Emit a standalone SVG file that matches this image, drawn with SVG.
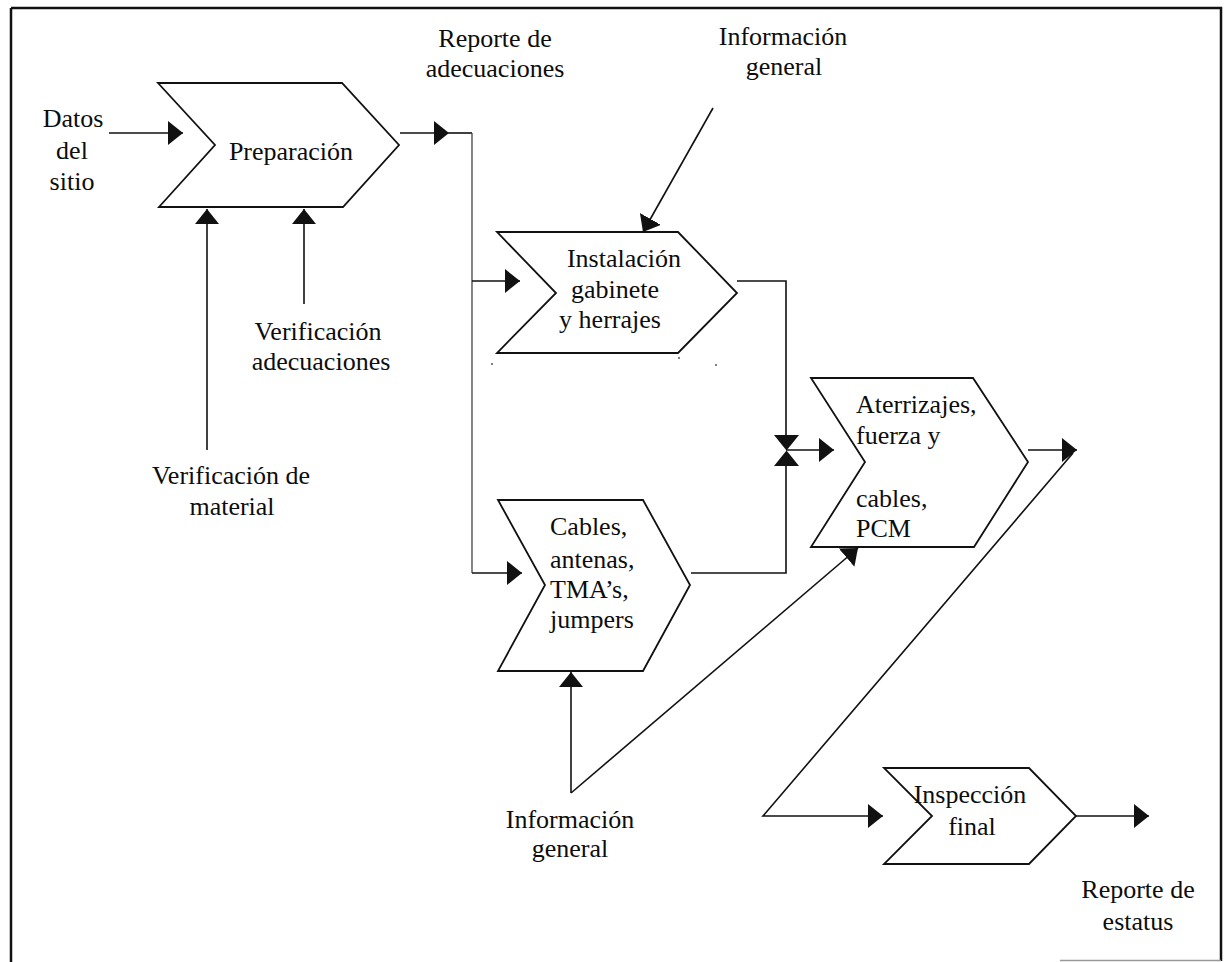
<svg xmlns="http://www.w3.org/2000/svg" width="1227" height="962" viewBox="0 0 1227 962">
  <defs>
    <marker id="arrow" markerUnits="userSpaceOnUse" markerWidth="16" markerHeight="24" viewBox="0 0 16 24" refX="15" refY="12" orient="auto">
      <path d="M0,0 L15,12 L0,24 z" fill="#111"/>
    </marker>
    <style>
      .shape { fill: #fff; stroke: #111; stroke-width: 1.8; stroke-linejoin: miter; }
      .wire { fill: none; stroke: #111; stroke-width: 1.6; }
      .thin { fill: none; stroke: #444; stroke-width: 1.3; }
      .arr { marker-end: url(#arrow); }
      text { font-family: "Liberation Serif", "Times New Roman", serif; font-size: 26px; fill: #0d0d0d; }
      .c { text-anchor: middle; }
      .speck { fill: #555; }
    </style>
  </defs>

  <rect width="1227" height="962" fill="#fff"/>

  <!-- frame -->
  <g id="frame" fill="none">
    <path d="M11,8 H1221 V961" stroke="#111" stroke-width="2.5"/>
    <path d="M11,8 V962" stroke="#111" stroke-width="2.5"/>
    <path d="M1060,960.5 H1221" stroke="#999" stroke-width="1.5"/>
  </g>

  <!-- connectors -->
  <g id="connectors">
    <path class="wire arr" d="M109,133 H183"/>
    <path class="wire arr" d="M207,450 V209"/>
    <path class="wire arr" d="M304,304 V209"/>
    <path class="wire arr" d="M400,133 H449"/>
    <path class="wire" d="M449,133 H472"/>
    <path class="thin" d="M472,133 V573"/>
    <path class="wire arr" d="M472,281 H520"/>
    <path class="wire arr" d="M472,573 H522"/>
    <path class="wire arr" d="M713,108 L643,232"/>
    <path class="wire" d="M737,281 H786 V436"/>
    <path class="wire" d="M691,573 H786 V465"/>
    <polygon points="774,435 799,435 786.5,450.5" fill="#111"/>
    <polygon points="774,466 799,466 786.5,450.5" fill="#111"/>
    <path class="wire arr" d="M786,450 H834"/>
    <path class="wire arr" d="M1028,450 H1077"/>
    <path class="wire arr" d="M1073,453 L763,816 H883"/>
    <path class="wire arr" d="M571,793 V672"/>
    <path class="wire arr" d="M571,793 L858,548"/>
    <path class="wire arr" d="M1076,816 H1149"/>
  </g>

  <!-- process nodes -->
  <g id="preparacion">
    <polygon class="shape" points="158,83 342,83 399,145 343,207 159,207 215,145"/>
    <text class="c" x="291" y="160">Preparación</text>
  </g>

  <g id="instalacion">
    <polygon class="shape" points="497,232 678,232 737,293 678,353 497,353 556,293"/>
    <text class="c" x="624" y="267">Instalación</text>
    <text class="c" x="615" y="298">gabinete</text>
    <text class="c" x="610" y="328">y herrajes</text>
    <circle class="speck" cx="492" cy="364" r="1"/>
    <circle class="speck" cx="679" cy="358" r="1"/>
    <circle class="speck" cx="716" cy="365" r="1"/>
  </g>

  <g id="cables">
    <polygon class="shape" points="498,500 643,500 690,585 643,671 498,671 545,585"/>
    <text x="550" y="535">Cables,</text>
    <text x="550" y="568">antenas,</text>
    <text x="550" y="598">TMA’s,</text>
    <text x="550" y="628">jumpers</text>
  </g>

  <g id="aterrizajes">
    <polygon class="shape" points="811,378 973,378 1028,462 974,547 811,547 865,462"/>
    <text x="856" y="413">Aterrizajes,</text>
    <text x="856" y="444">fuerza y</text>
    <text x="856" y="507">cables,</text>
    <text x="856" y="537">PCM</text>
  </g>

  <g id="inspeccion">
    <polygon class="shape" points="884,768 1029,768 1076,816 1029,864 884,864 932,816"/>
    <text class="c" x="970" y="803">Inspección</text>
    <text class="c" x="972" y="835">final</text>
  </g>

  <!-- inputs and outputs -->
  <g id="datos-sitio">
    <text class="c" x="73" y="127">Datos</text>
    <text class="c" x="72" y="159">del</text>
    <text class="c" x="72" y="190">sitio</text>
  </g>

  <g id="verificacion-adecuaciones">
    <text class="c" x="318" y="340">Verificación</text>
    <text class="c" x="321" y="370">adecuaciones</text>
  </g>

  <g id="verificacion-material">
    <text class="c" x="231" y="484">Verificación de</text>
    <text class="c" x="232" y="515">material</text>
  </g>

  <g id="reporte-adecuaciones">
    <text class="c" x="495" y="47">Reporte de</text>
    <text class="c" x="495" y="77">adecuaciones</text>
  </g>

  <g id="informacion-general-top">
    <text class="c" x="783" y="45">Información</text>
    <text class="c" x="784" y="75">general</text>
  </g>

  <g id="informacion-general-bottom">
    <text class="c" x="570" y="828">Información</text>
    <text class="c" x="570" y="857">general</text>
  </g>

  <g id="reporte-estatus">
    <text class="c" x="1138" y="898">Reporte de</text>
    <text class="c" x="1138" y="930">estatus</text>
  </g>
</svg>
